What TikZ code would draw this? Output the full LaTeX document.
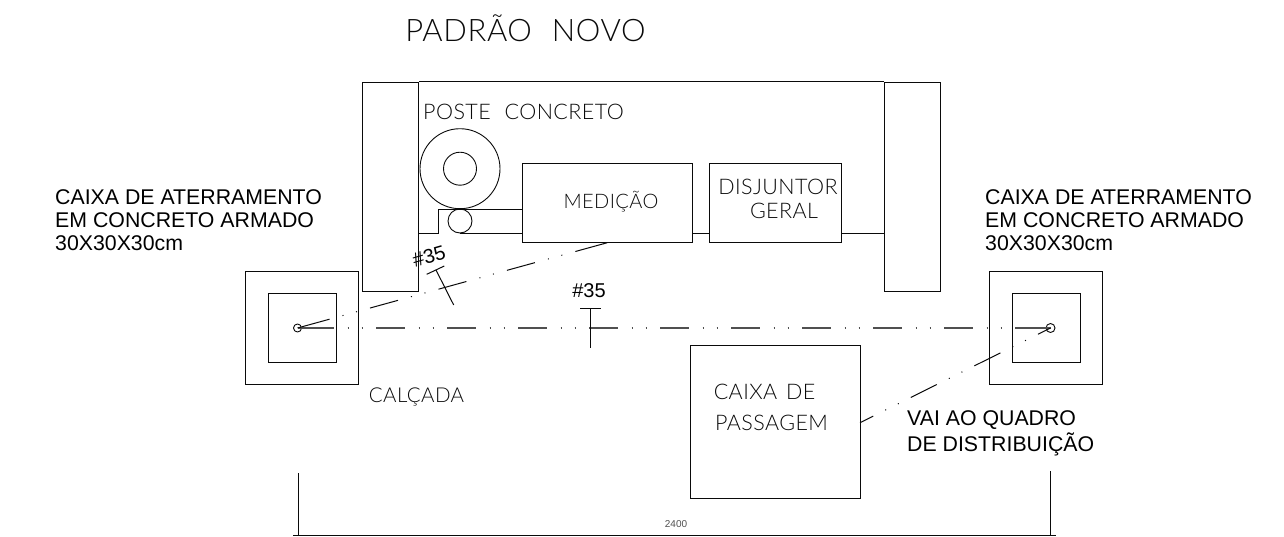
\documentclass[tikz,border=0pt]{standalone}
\usepackage{fontspec}
\usetikzlibrary{positioning}
\setmainfont{Liberation Sans}
\newfontfamily\cadfont[UprightFont=* Light, WordSpace=2.2, LetterSpace=2]{Lato}
\definecolor{mycolor1}{RGB}{10,10,10}
\definecolor{mycolor2}{RGB}{80,80,80}
\tikzset{
  box/.style={draw=mycolor1, line width=1pt, inner sep=0pt, rectangle},
  furo/.style={draw=mycolor1, line width=0.9pt, inner sep=0pt, circle},
  traco/.style={draw=mycolor1, line width=1pt},
  terra/.style={draw=mycolor2, line width=1.5pt, dash pattern=on 29pt off 13.5pt on 1pt off 13pt on 1pt off 13.5pt},
  rotulo/.style={font=\fontsize{21.3}{23}\selectfont, align=left, anchor=west, inner sep=0pt, text=black},
  cad/.style={font=\cadfont\fontsize{21.5}{23}\selectfont, inner sep=0pt, text=mycolor1},
}
\begin{document}
\begin{tikzpicture}[x=1pt, y=-1pt]
  \useasboundingbox (0,0) rectangle (1284,536);
  \node[cad, font=\cadfont\fontsize{31}{32}\selectfont] (titulo) at (525.5,28.5) {PADRÃO NOVO};

  % muro e colunas
  \node[box, minimum width=56.5, minimum height=209.5] (colesq) at (390.7,187) {};
  \node[box, minimum width=56, minimum height=209.5] (coldir) at (912,187) {};
  \draw[traco] (colesq.north east) -- (coldir.north west);

  % poste
  \node[furo, minimum size=80] (poste) at (460,168.7) {};
  \node[furo, minimum size=33] (postein) at (460,168.7) {};
  \node[furo, minimum size=24] (duto) at (460,221) {};
  \node[cad] (lposte) at (523.5,112) {POSTE CONCRETO};

  % medicao e disjuntor
  \node[box, minimum width=170.5, minimum height=79.4] (medicao) at (607.5,203) {};
  \node[box, minimum width=132.4, minimum height=79.4] (disjuntor) at (775.5,203) {};
  \node[cad, font=\cadfont\fontsize{20}{23}\selectfont] (lmedicao) at (611,202) {MEDIÇÃO};
  \node[cad] (ldisj) at (778,187) {DISJUNTOR};
  \node[cad] (lgeral) at (784,211) {GERAL};
  \coordinate (ramalA) at (419,233.3);
  \coordinate (ramalB) at (460,233.3);
  \coordinate (ramalC) at (522.3,233.3);
  \coordinate (ramalD) at (692.7,233.3);
  \coordinate (ramalE) at (709.3,233.3);
  \coordinate (ramalF) at (841.7,233.3);
  \coordinate (ramalG) at (884,233.3);
  \draw[traco] (ramalA) -- (438.7,233.3) |- (522.3,209);
  \draw[traco] (ramalB) -- (ramalC);
  \draw[traco] (ramalD) -- (ramalE);
  \draw[traco] (ramalF) -- (ramalG);

  % caixas de aterramento
  \node[box, minimum width=113.3, minimum height=113.4] (caixaesq) at (302.3,328) {};
  \node[box, minimum width=68.5, minimum height=68.4] (caixaesqin) at (302.3,328) {};
  \node[furo, minimum size=8] (hasteesq) at (297.5,328) {};
  \node[box, minimum width=113.4, minimum height=113.4] (caixadir) at (1046,328) {};
  \node[box, minimum width=68, minimum height=68.4] (caixadirin) at (1046,328) {};
  \node[furo, minimum size=9] (hastedir) at (1050.5,328) {};

  % caixa de passagem
  \node[box, minimum width=170, minimum height=153] (passagem) at (775,422) {};
  \node[cad] (lcaixa) at (764.5,392) {CAIXA\hspace{-5pt} DE};
  \node[cad] (lpass) at (771.5,423) {PASSAGEM};
  \node[cad, font=\cadfont\fontsize{20.5}{23}\selectfont] (lcalcada) at (416.5,397) {CALÇADA};
  \coordinate (saida) at (860,422.7);
  \coordinate (chegada) at (607.3,242.7);
  \coordinate (pontaA) at (301.5,326.9);
  \coordinate (pontaB) at (603,243.9);

  % cabos de aterramento
  \draw[terra, dash phase=63.5] (hasteesq.center) -- (hastedir.center);
  \draw[terra, solid] (hasteesq.center) -- ++(8,0);
  \draw[terra, solid] (hastedir.center) -- ++(-8,0);
  \draw[terra, mycolor1, line width=1pt, dash phase=66.8] (hasteesq.center) -- (chegada);
  \draw[terra, solid, mycolor1, line width=1pt] (hasteesq.center) -- (pontaA);
  \draw[terra, solid, mycolor1, line width=1pt] (pontaB) -- (chegada);
  \draw[terra, mycolor1, line width=1pt, dash phase=15] (hastedir.center) -- (saida);

  % marcas de bitola
  \coordinate (barraA) at (580,308.7);
  \coordinate (barraB) at (600.7,308.7);
  \coordinate (barraC) at (590.5,308.7);
  \coordinate (barraD) at (590.5,348);
  \coordinate (barraE) at (426.7,274.3);
  \coordinate (barraF) at (444.3,266);
  \coordinate (barraG) at (436,270);
  \coordinate (barraH) at (453.7,305);
  \draw[traco] (barraA) -- (barraB);
  \draw[traco] (barraC) -- (barraD);
  \draw[traco] (barraE) -- (barraF);
  \draw[traco] (barraG) -- (barraH);
  \node[inner sep=0pt, font=\fontsize{20}{20}\selectfont] (bitolaA) at (589,291) {\#35};
  \node[inner sep=0pt, rotate=16, font=\fontsize{20}{20}\selectfont] (bitolaB) at (429,256) {\#35};

  % textos
  \node[rotulo] (textoesq) at (55,220.5) {CAIXA DE ATERRAMENTO\\EM CONCRETO ARMADO\\30X30X30cm};
  \node[rotulo] (textodir) at (985,220.5) {CAIXA DE ATERRAMENTO\\EM CONCRETO ARMADO\\30X30X30cm};
  \node[rotulo, font=\fontsize{21.3}{26}\selectfont] (textoquadro) at (907,433) {VAI AO QUADRO\\DE DISTRIBUIÇÃO};

  % cota
  \coordinate (cotaA) at (298,473);
  \coordinate (cotaB) at (298,535.3);
  \coordinate (cotaC) at (1050.5,471);
  \coordinate (cotaD) at (1050.5,535.3);
  \coordinate (cotaE) at (293,535.3);
  \coordinate (cotaF) at (1056,535.3);
  \draw[traco, line width=0.9pt] (cotaA) -- (cotaB);
  \draw[traco, line width=0.9pt] (cotaC) -- (cotaD);
  \draw[traco, line width=1.2pt] (cotaE) -- (cotaF);
  \node[inner sep=0pt, font=\fontsize{10}{10}\selectfont, text=mycolor2] (lcota) at (676,524) {2400};
\end{tikzpicture}
\end{document}
